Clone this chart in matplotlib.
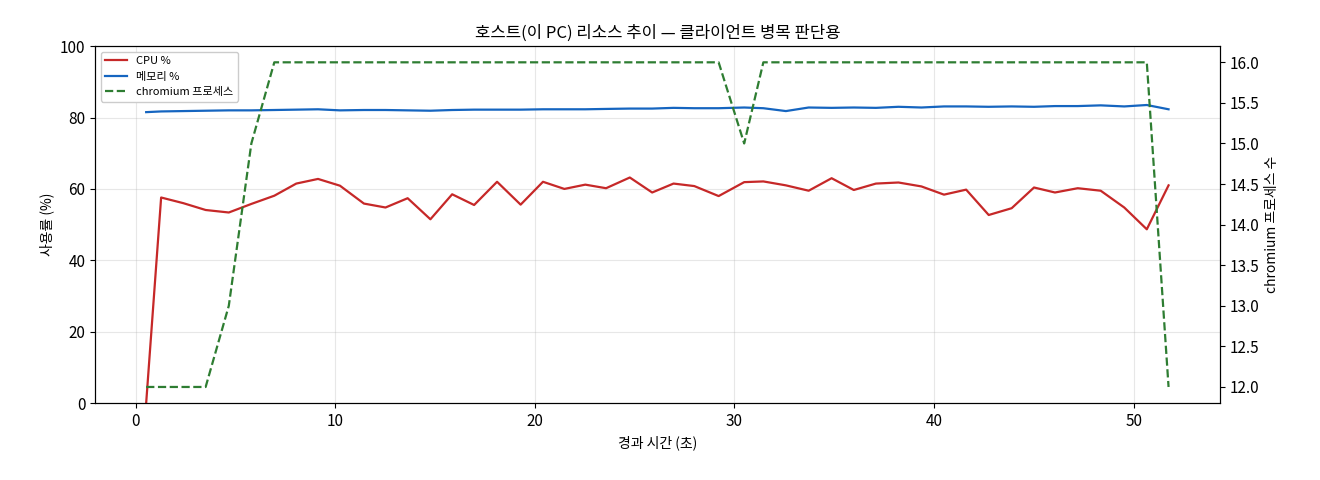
import matplotlib
matplotlib.use("Agg")
import matplotlib.pyplot as plt

plt.rcParams['font.family'] = ['Noto Sans CJK KR', 'DejaVu Sans']

# elapsed seconds for each sample
t = [0.53, 1.28, 2.40, 3.51, 4.67, 5.80, 6.95, 8.05, 9.14, 10.24, 11.44, 12.52,
     13.63, 14.77, 15.86, 16.96, 18.11, 19.29, 20.41, 21.48, 22.53, 23.57, 24.76,
     25.88, 26.95, 27.99, 29.21, 30.49, 31.45, 32.58, 33.72, 34.87, 35.98, 37.09,
     38.22, 39.37, 40.50, 41.61, 42.74, 43.89, 45.01, 46.06, 47.20, 48.35, 49.53,
     50.66, 51.75]

cpu = [0, 57.6, 56.0, 54.1, 53.4, 55.8, 58.1, 61.5, 62.8, 60.9, 55.9, 54.8,
       57.4, 51.5, 58.5, 55.5, 62.0, 55.6, 62.0, 60.0, 61.2, 60.2, 63.2,
       59.0, 61.5, 60.8, 58.0, 61.9, 62.1, 61.0, 59.5, 63.0, 59.7, 61.5,
       61.8, 60.7, 58.4, 59.8, 52.7, 54.6, 60.4, 59.0, 60.2, 59.5, 54.8,
       48.7, 61.0]

mem = [81.5, 81.7, 81.8, 81.9, 82.0, 82.0, 82.1, 82.2, 82.3, 82.0, 82.1, 82.1,
       82.0, 81.9, 82.1, 82.2, 82.2, 82.2, 82.3, 82.3, 82.3, 82.4, 82.5,
       82.5, 82.7, 82.6, 82.6, 82.8, 82.6, 81.8, 82.8, 82.7, 82.8, 82.7,
       83.0, 82.8, 83.1, 83.1, 83.0, 83.1, 83.0, 83.2, 83.2, 83.4, 83.1,
       83.5, 82.3]

procs = [12, 12, 12, 12, 13, 15, 16, 16, 16, 16, 16, 16,
         16, 16, 16, 16, 16, 16, 16, 16, 16, 16, 16,
         16, 16, 16, 16, 15, 16, 16, 16, 16, 16, 16,
         16, 16, 16, 16, 16, 16, 16, 16, 16, 16, 16,
         16, 12]

fig, ax = plt.subplots(figsize=(13.2, 4.8), dpi=100)
l1, = ax.plot(t, cpu, color='#c62828', lw=1.6, label='CPU %')
l2, = ax.plot(t, mem, color='#1565c0', lw=1.6, label='메모리 %')
ax.set_ylim(0, 100)
ax.set_xlabel('경과 시간 (초)')
ax.set_ylabel('사용률 (%)')
ax.tick_params(labelsize=11)
ax.grid(alpha=0.3)

ax2 = ax.twinx()
l3, = ax2.plot(t, procs, color='#2e7d32', lw=1.6, ls='--', label='chromium 프로세스')
ax2.set_ylim(11.8, 16.2)
ax2.set_ylabel('chromium 프로세스 수')
ax2.tick_params(labelsize=11)

ax.set_title('호스트(이 PC) 리소스 추이 — 클라이언트 병목 판단용', fontsize=12)
ax.legend(handles=[l1, l2, l3], loc='upper left', fontsize=8, framealpha=1)

fig.subplots_adjust(left=0.072, right=0.924, top=0.904, bottom=0.16)
fig.savefig('out.png')
